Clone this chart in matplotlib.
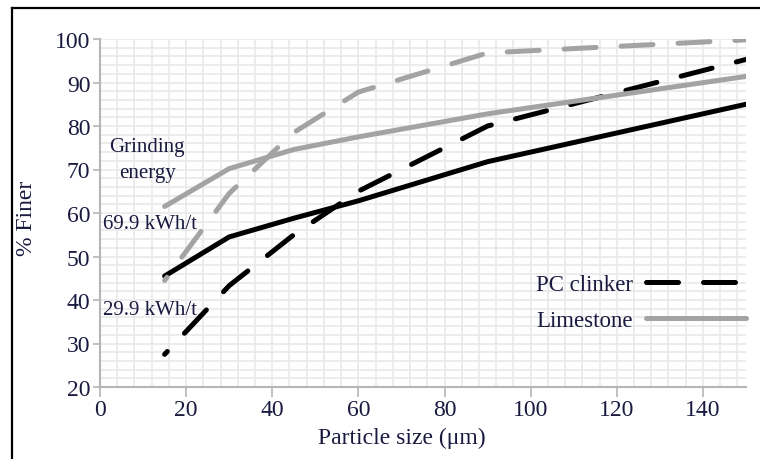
import matplotlib
matplotlib.use("Agg")
import matplotlib.pyplot as plt
from matplotlib.lines import Line2D
import numpy as np

# ---- data ----
x_clinker_hi = [15, 30, 45, 60, 90, 150]
clinker_hi = [45.5, 54.5, 58.8, 62.8, 71.8, 85.0]      # PC clinker, 69.9 kWh/t (solid)
x_lime_hi = [15, 30, 45, 60, 90, 150]
lime_hi = [61.5, 70.2, 74.6, 77.5, 82.8, 91.4]         # Limestone, 69.9 kWh/t (solid)
x_clinker_lo = [15, 30, 45, 60, 90, 150]
clinker_lo = [27.5, 43.3, 55.0, 65.0, 80.0, 95.3]      # PC clinker, 29.9 kWh/t (dashed)
x_lime_lo = [15, 30, 45, 60, 90, 150]
lime_lo = [44.5, 64.5, 78.5, 87.8, 96.8, 99.8]         # Limestone, 29.9 kWh/t (dashed)

x_ticks = [0, 20, 40, 60, 80, 100, 120, 140]
y_ticks = [20, 30, 40, 50, 60, 70, 80, 90, 100]
labels = ["PC clinker", "Limestone"]

# ---- style ----
FONT = "Liberation Serif"
TXT = "#1a1a40"
GRAY = "#a3a3a3"
BLACK = "#000000"
LW = 3.6
DASH = (6.4, 5.0)
DASH_OFFSET = 5.6

plt.rcParams["font.family"] = [FONT, "DejaVu Serif"]

fig = plt.figure(figsize=(7.6, 4.6), dpi=100)
ax = fig.add_axes([100 / 760, 1 - 388 / 460, 646 / 760, 348 / 460])

ax.set_xlim(0, 150)
ax.set_ylim(20, 100)

# grid
ax.set_xticks(np.arange(0, 151, 4), minor=True)
ax.set_yticks(np.arange(20, 101, 2), minor=True)
ax.grid(which="both", color="#e9e9e9", lw=1.2, zorder=0)
ax.set_axisbelow(True)
ax.tick_params(which="minor", length=0)

ax.set_xticks(x_ticks)
ax.set_yticks(y_ticks)
ax.tick_params(which="major", direction="out", color="#b5b5b5", width=1.2,
               labelsize=17, labelcolor=TXT)
ax.tick_params(axis="x", length=7, pad=2)
ax.tick_params(axis="y", length=5, pad=2)

for s in ["top", "right"]:
    ax.spines[s].set_visible(False)
for s in ["left", "bottom"]:
    ax.spines[s].set_color("#b5b5b5")
    ax.spines[s].set_linewidth(1.5)

# lines
ax.plot(x_clinker_hi, clinker_hi, color=BLACK, lw=LW, solid_capstyle="round", zorder=3)
ax.plot(x_clinker_lo, clinker_lo, color=BLACK, lw=LW, linestyle=(DASH_OFFSET, DASH),
        dash_capstyle="round", zorder=3)
ax.plot(x_lime_hi, lime_hi, color=GRAY, lw=LW, solid_capstyle="round", zorder=4)
ax.plot(x_lime_lo, lime_lo, color=GRAY, lw=LW, linestyle=(DASH_OFFSET, DASH),
        dash_capstyle="round", zorder=4)

# annotations
ax.text(11.0, 75.2, "Grinding", ha="center", va="center", fontsize=15, color=TXT)
ax.text(11.0, 69.4, "energy", ha="center", va="center", fontsize=15, color=TXT)
ax.text(0.7, 57.5, "69.9 kWh/t", ha="left", va="center", fontsize=15, color=TXT)
ax.text(0.7, 37.9, "29.9 kWh/t", ha="left", va="center", fontsize=15, color=TXT)

handles = [
    Line2D([], [], color=BLACK, lw=LW, dashes=DASH, dash_capstyle="round"),
    Line2D([], [], color=GRAY, lw=LW, solid_capstyle="round"),
]
leg = ax.legend(handles, labels, loc="upper right", bbox_to_anchor=(1.0, 0.325),
                markerfirst=False, frameon=False, fontsize=16.5, handlelength=4.36,
                handletextpad=0.57, labelspacing=0.64, borderpad=0, borderaxespad=0)
for t in leg.get_texts():
    t.set_color(TXT)

xl = ax.set_xlabel("Particle size (μm)", fontsize=17, color=TXT)
yl = ax.set_ylabel("% Finer", fontsize=17, color=TXT)
ax.xaxis.set_label_coords((402 - 100) / 646, -(438 - 388) / 348)
ax.yaxis.set_label_coords((27 - 100) / 646, (388 - 218) / 348)
xl.set_va("center")
yl.set_va("center")

# outer frame
fig.add_artist(Line2D([12 / 760, 12 / 760], [0, 1 - 9 / 460], color="black", lw=1.6,
                      transform=fig.transFigure))
fig.add_artist(Line2D([12 / 760, 1.0], [1 - 9 / 460, 1 - 9 / 460], color="black", lw=1.6,
                      transform=fig.transFigure))

fig.savefig("out.png", dpi=100)
